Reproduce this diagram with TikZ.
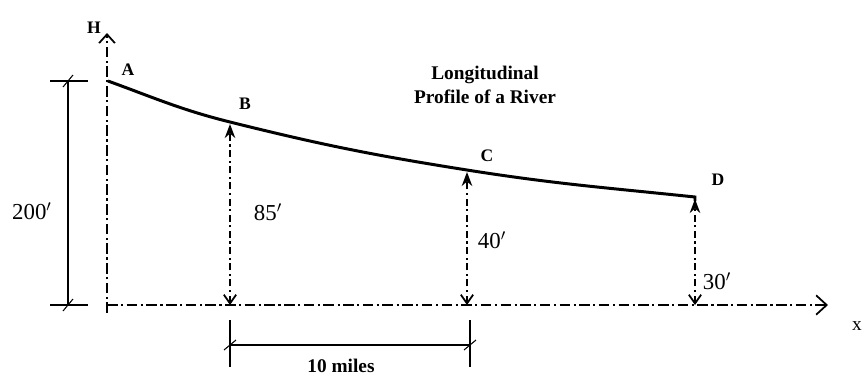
\documentclass[tikz,border=0pt]{standalone}
\usepackage{fontspec}
\setmainfont{Liberation Serif}
\usetikzlibrary{arrows.meta, positioning, calc}

\begin{document}
\begin{tikzpicture}[x=0.02cm, y=-0.02cm,
    axis/.style={line width=1pt, dash pattern=on 6pt off 2pt on 1.2pt off 2pt},
    height/.style={line width=1pt, dash pattern=on 4pt off 2pt on 1.2pt off 2pt,
                   {Straight Barb[length=5pt,width=7pt]}-{Stealth[length=8pt,width=6pt]}},
    dim/.style={semithick},
    pt/.style={font=\fontsize{10}{12}\selectfont\bfseries, inner sep=1pt},
    val/.style={font=\fontsize{13}{15}\selectfont, inner sep=1pt}
  ]
    \useasboundingbox (0,0) rectangle (867,387);

    % axes
    \coordinate (O) at (107,305);
    \coordinate (Hbot) at (107,313);
    \coordinate (Htop) at (107,33);
    \coordinate (Xend) at (828,305);
    \draw[axis, -{Straight Barb[length=5pt,width=9pt]}] (Hbot) -- (Htop);
    \draw[axis, -{Straight Barb[length=6pt,width=11pt]}] (O) -- (Xend);
    \node[pt] (hlab) at (94,28) {H};
    \node[font=\fontsize{11}{13}\selectfont] (xlab) at (857,326) {x};

    % river profile
    \coordinate (A) at (108,81);
    \coordinate (B) at (230,122);
    \coordinate (C) at (467,170);
    \coordinate (D) at (695,197);
    \draw[line width=1.7pt] (A) to[out=-20,in=166] (B)
      to[out=-14,in=171] (C) to[out=-9,in=174] (D) -- ++(0,4);
    \node[pt] (alab) at (128,70) {A};
    \node[pt] (blab) at (245,104) {B};
    \node[pt] (clab) at (487,156) {C};
    \node[pt] (dlab) at (718,180) {D};

    % heights above datum
    \foreach \p in {B,C,D}
      \draw[height] (\p |- O) -- ($(\p)+(0,2)$);
    \node[val] (hb) at (268,212) {85$'$};
    \node[val] (hc) at (492,240) {40$'$};
    \node[val] (hd) at (717,281) {30$'$};

    % total fall
    \coordinate (T1) at (68,81);
    \coordinate (T2) at (68,305);
    \draw[dim] (T1) -- (T2);
    \draw[dim] ($(T1)+(-18,0)$) -- ($(T1)+(20,0)$);
    \draw[dim] ($(T2)+(-18,0)$) -- ($(T2)+(20,0)$);
    \draw[dim] ($(T1)+(-5,6)$) -- ($(T1)+(5,-6)$);
    \draw[dim] ($(T2)+(-5,6)$) -- ($(T2)+(5,-6)$);
    \node[val] (fall) at (32,211) {200$'$};

    % distance B--C
    \coordinate (L1) at (230,345);
    \coordinate (L2) at (470,345);
    \draw[dim] (L1) -- (L2);
    \draw[dim] ($(L1)+(0,-25)$) -- ($(L1)+(0,22)$);
    \draw[dim] ($(L2)+(0,-25)$) -- ($(L2)+(0,22)$);
    \draw[dim] ($(L1)+(-6,5)$) -- ($(L1)+(6,-5)$);
    \draw[dim] ($(L2)+(-6,5)$) -- ($(L2)+(6,-5)$);
    \node[font=\fontsize{11}{13}\selectfont\bfseries] (dist) at (341,366) {10 miles};

    \node[font=\fontsize{11}{14}\selectfont\bfseries, align=center] (title) at (485,85)
      {Longitudinal\\Profile of a River};
  \end{tikzpicture}
\end{document}
